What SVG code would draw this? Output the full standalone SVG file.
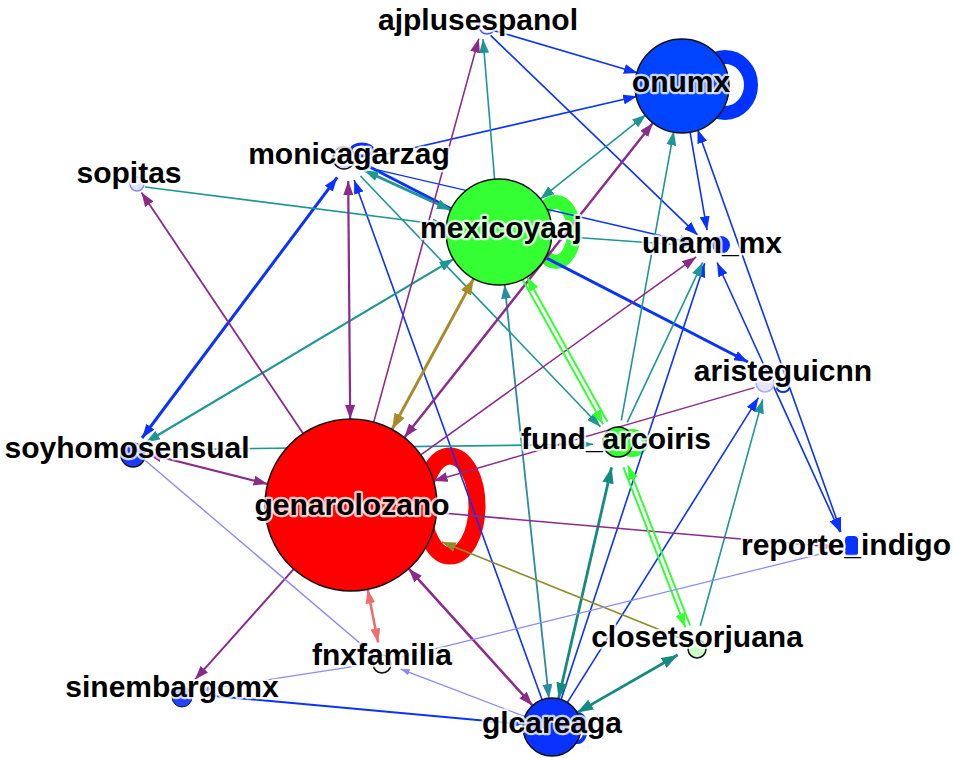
<svg xmlns="http://www.w3.org/2000/svg" width="954" height="758" viewBox="0 0 954 758">
<style>
.e{fill:none;stroke-linecap:butt}
.b{stroke:#0a32ff}.t{stroke:#1e9696}.p{stroke:#8c2a8c}.o{stroke:#a88a28}.g{stroke:#33ff33}.s{stroke:#ec7070}.lb{stroke:#8888ff}
.lbl{font-family:"Liberation Sans",Arial,Helvetica,sans-serif;font-weight:bold;font-size:30px;fill:#000;text-anchor:middle;stroke:#fff;stroke-width:4.5;stroke-opacity:0.8;stroke-linejoin:round;paint-order:stroke}
</style>
<defs>
<marker id="aB" viewBox="0 0 14 10" refX="14" refY="5" markerWidth="14" markerHeight="10" markerUnits="userSpaceOnUse" orient="auto-start-reverse"><path d="M0,0L14,5L0,10z" fill="#0a32ff"/></marker>
<marker id="aT" viewBox="0 0 14 10" refX="14" refY="5" markerWidth="14" markerHeight="10" markerUnits="userSpaceOnUse" orient="auto-start-reverse"><path d="M0,0L14,5L0,10z" fill="#1e9696"/></marker>
<marker id="aT2" viewBox="0 0 14 10" refX="14" refY="5" markerWidth="14" markerHeight="10" markerUnits="userSpaceOnUse" orient="auto-start-reverse"><path d="M0,0L14,5L0,10z" fill="#2a8ca0"/></marker>
<marker id="aT3" viewBox="0 0 14 10" refX="14" refY="5" markerWidth="16" markerHeight="12" markerUnits="userSpaceOnUse" orient="auto-start-reverse"><path d="M0,0L14,5L0,10z" fill="#148a80"/></marker>
<marker id="aP" viewBox="0 0 14 10" refX="14" refY="5" markerWidth="14" markerHeight="10" markerUnits="userSpaceOnUse" orient="auto-start-reverse"><path d="M0,0L14,5L0,10z" fill="#8c2a8c"/></marker>
<marker id="aO" viewBox="0 0 14 10" refX="14" refY="5" markerWidth="16" markerHeight="12" markerUnits="userSpaceOnUse" orient="auto-start-reverse"><path d="M0,0L14,5L0,10z" fill="#a88a28"/></marker>
<marker id="aO2" viewBox="0 0 14 10" refX="14" refY="5" markerWidth="14" markerHeight="10" markerUnits="userSpaceOnUse" orient="auto-start-reverse"><path d="M0,0L14,5L0,10z" fill="#8f8a2a"/></marker>
<marker id="aG" viewBox="0 0 14 10" refX="14" refY="5" markerWidth="14" markerHeight="10" markerUnits="userSpaceOnUse" orient="auto-start-reverse"><path d="M0,0L14,5L0,10z" fill="#33ff33"/></marker>
<marker id="aS" viewBox="0 0 14 10" refX="14" refY="5" markerWidth="14" markerHeight="10" markerUnits="userSpaceOnUse" orient="auto-start-reverse"><path d="M0,0L14,5L0,10z" fill="#ec7070"/></marker>
<marker id="aL" viewBox="0 0 14 10" refX="14" refY="5" markerWidth="9" markerHeight="7" markerUnits="userSpaceOnUse" orient="auto-start-reverse"><path d="M0,0L14,5L0,10z" fill="#8888ff"/></marker>
</defs>
<rect width="954" height="758" fill="#fff"/>
<g id="loops" fill="none">
<ellipse cx="725" cy="85" rx="26" ry="28" stroke="#0033ff" stroke-width="14"/>
<ellipse cx="556" cy="232" rx="18" ry="30" stroke="#33ff33" stroke-width="14"/>
<ellipse cx="450" cy="506" rx="27" ry="50" stroke="#ff0000" stroke-width="17"/>
<ellipse cx="578" cy="728" rx="8" ry="14" stroke="#0a32ff" stroke-width="4"/>
<ellipse cx="632" cy="443" rx="13" ry="11" stroke="#33ff33" stroke-width="6"/>
<ellipse cx="362" cy="150" rx="11" ry="6" stroke="#0a32ff" stroke-width="3"/>
<ellipse cx="783" cy="388" rx="6" ry="4" stroke="#0a32ff" stroke-width="2"/>
</g>
<g id="edges" class="e">
<line class="e b" stroke-width="1.6" x1="493.5" y1="30.4" x2="637.9" y2="73" marker-end="url(#aB)"/>
<line class="e b" stroke-width="1.6" x1="490.6" y1="35.3" x2="697.8" y2="235.2" marker-end="url(#aB)"/>
<line class="e b" stroke-width="1.6" x1="365.5" y1="159" x2="637.2" y2="96.3" marker-end="url(#aB)"/>
<line class="e b" stroke-width="1.6" x1="689.9" y1="131.3" x2="707.1" y2="230.2" marker-end="url(#aB)"/>
<line class="e b" stroke-width="1.6" x1="697.5" y1="129.3" x2="841" y2="531.7" marker-start="url(#aB)" marker-end="url(#aB)"/>
<line class="e b" stroke-width="1.6" x1="717.1" y1="262.5" x2="840" y2="532.1" marker-start="url(#aB)" marker-end="url(#aB)"/>
<line class="e b" stroke-width="3" x1="142" y1="438" x2="337.2" y2="177.4" marker-start="url(#aB)" marker-end="url(#aB)"/>
<line class="e b" stroke-width="1.6" x1="542.1" y1="699.7" x2="354.1" y2="179.9" marker-end="url(#aB)"/>
<line class="e b" stroke-width="3" x1="366" y1="165" x2="748" y2="362" marker-end="url(#aB)"/>
<line class="e b" stroke-width="1.4" x1="365.5" y1="167.1" x2="693.4" y2="243.2" marker-end="url(#aB)"/>
<line class="e b" stroke-width="2" x1="200.9" y1="694.7" x2="523.1" y2="724.3" marker-end="url(#aB)"/>
<line class="e b" stroke-width="1.6" x1="561.1" y1="699.4" x2="704.7" y2="263.2" marker-end="url(#aB)"/>
<line class="e b" stroke-width="1.6" x1="567.4" y1="702.4" x2="758.5" y2="397.6" marker-end="url(#aB)"/>
<line class="e t" stroke-width="1.6" x1="494.6" y1="179.2" x2="483" y2="39" marker-end="url(#aT)"/>
<line class="e t" stroke-width="1.6" x1="540.4" y1="198.9" x2="646" y2="114.7" marker-start="url(#aT)" marker-end="url(#aT)"/>
<line class="e t" stroke-width="1.6" x1="621.3" y1="420.4" x2="673.8" y2="131.3" marker-end="url(#aT)"/>
<line class="e t" stroke-width="3" x1="364.4" y1="170.5" x2="450.8" y2="210" marker-start="url(#aT)" marker-end="url(#aT)"/>
<line class="e t" stroke-width="1.6" x1="145" y1="187" x2="446.4" y2="225.3" marker-end="url(#aT)"/>
<line class="e t" stroke-width="1.6" x1="551.9" y1="235.8" x2="693" y2="245.8" marker-end="url(#aT)"/>
<line class="e t" stroke-width="1.6" x1="360.4" y1="176" x2="600.4" y2="426.7" marker-end="url(#aT)"/>
<line class="e t" stroke-width="2.2" x1="145.9" y1="442.3" x2="453.5" y2="259.1" marker-start="url(#aT)" marker-end="url(#aT)"/>
<line class="e" stroke="#2a8ca0" stroke-width="1.8" x1="504.6" y1="284.7" x2="548.9" y2="698.2" marker-start="url(#aT2)" marker-end="url(#aT2)"/>
<line class="e t" stroke-width="1.6" x1="148" y1="449.8" x2="593" y2="444.3" marker-end="url(#aT)"/>
<line class="e" stroke="#148a80" stroke-width="2.8" x1="577.2" y1="712.6" x2="677.6" y2="655" marker-start="url(#aT3)" marker-end="url(#aT3)"/>
<line class="e" stroke="#148a80" stroke-width="2.8" x1="611.6" y1="467.4" x2="558.5" y2="698.7" marker-start="url(#aT3)" marker-end="url(#aT3)"/>
<line class="e t" stroke-width="1.6" x1="700.3" y1="625.7" x2="762.7" y2="399.4" marker-end="url(#aT)"/>
<line class="e t" stroke-width="1.6" x1="627.2" y1="422.3" x2="702.7" y2="262.4" marker-end="url(#aT)"/>
<line class="e p" stroke-width="1.6" x1="373.7" y1="422.1" x2="478.8" y2="38.6" marker-end="url(#aP)"/>
<line class="e p" stroke-width="2.4" x1="404.3" y1="437.5" x2="652.9" y2="122.9" marker-start="url(#aP)" marker-end="url(#aP)"/>
<line class="e p" stroke-width="2.2" x1="350.2" y1="419" x2="348.2" y2="181" marker-start="url(#aP)" marker-end="url(#aP)"/>
<line class="e p" stroke-width="1.8" x1="303.1" y1="433.6" x2="141.5" y2="192.6" marker-end="url(#aP)"/>
<line class="e p" stroke-width="2.2" x1="147.5" y1="453.7" x2="267.6" y2="484" marker-start="url(#aP)" marker-end="url(#aP)"/>
<line class="e p" stroke-width="1.6" x1="420.8" y1="454.8" x2="696.2" y2="256.9" marker-end="url(#aP)"/>
<line class="e p" stroke-width="1.4" x1="754.5" y1="387.6" x2="433.6" y2="481" marker-end="url(#aP)"/>
<line class="e p" stroke-width="1.6" x1="436.7" y1="512.5" x2="833" y2="547" marker-end="url(#aP)"/>
<line class="e p" stroke-width="2" x1="293.7" y1="569.1" x2="195" y2="679.6" marker-end="url(#aP)"/>
<line class="e p" stroke-width="2.6" x1="408.7" y1="568.7" x2="532.5" y2="705.5" marker-start="url(#aP)" marker-end="url(#aP)"/>
<line class="e o" stroke-width="3" x1="392" y1="429.4" x2="473.7" y2="278.6" marker-start="url(#aO)" marker-end="url(#aO)"/>
<line class="e" stroke="#8f8a2a" stroke-width="1.6" x1="680" y1="638" x2="442" y2="542" marker-end="url(#aO2)"/>
<line class="e g" stroke-width="2" x1="522.6" y1="279.5" x2="603.1" y2="424.2" marker-end="url(#aG)"/>
<line class="e g" stroke-width="2" x1="607.5" y1="421.8" x2="527" y2="277.1" marker-end="url(#aG)"/>
<line class="e g" stroke-width="2" x1="623.4" y1="467.3" x2="685.4" y2="627.3" marker-end="url(#aG)"/>
<line class="e g" stroke-width="2" x1="690.1" y1="625.5" x2="628" y2="465.5" marker-end="url(#aG)"/>
<line class="e s" stroke-width="2.6" x1="367.7" y1="589.4" x2="378.1" y2="642.4" marker-start="url(#aS)" marker-end="url(#aS)"/>
<line class="e lb" stroke-width="1.4" x1="144.4" y1="459.7" x2="366.8" y2="649" marker-end="url(#aL)"/>
<line class="e lb" stroke-width="1.2" x1="362.2" y1="665.1" x2="200.8" y2="690.2" marker-end="url(#aL)"/>
<line class="e lb" stroke-width="1.2" x1="401.4" y1="657.2" x2="833.3" y2="550.9" marker-end="url(#aL)"/>
<line class="e lb" stroke-width="1.2" x1="524.9" y1="716.6" x2="400.7" y2="669.1" marker-end="url(#aL)"/>
</g>
<g id="nodes" stroke="#111" stroke-width="1.5">
<g id="n-onumx"><circle cx="682" cy="86" r="47" fill="#0044ff"/></g>
<g id="n-mexicoyaaj"><circle cx="499" cy="232" r="53" fill="#33ff33"/></g>
<g id="n-genarolozano"><circle cx="351" cy="505" r="86" fill="#ff0000"/></g>
<g id="n-glcareaga"><circle cx="552" cy="727" r="29" fill="#0a32ff"/></g>
<g id="n-ajplusespanol"><circle cx="487" cy="26" r="8" fill="#e8e8ff" stroke="#4a5aff"/></g>
<g id="n-monicagarzag"><circle cx="344" cy="158" r="11" fill="#d8d8ff"/></g>
<g id="n-sopitas"><circle cx="137" cy="184" r="7" fill="#e0e0ff" stroke="#8888ff"/></g>
<g id="n-unam_mx"><circle cx="721" cy="245" r="9" fill="#0a32ff" stroke="none"/></g>
<g id="n-aristeguicnn"><circle cx="765" cy="383" r="9" fill="#e6e6ff" stroke="#aaaaff"/></g>
<g id="n-fund_arcoiris"><circle cx="618" cy="442" r="15" fill="#33ff33"/></g>
<g id="n-soyhomosensual"><circle cx="133" cy="455" r="12" fill="#1a3cff"/></g>
<g id="n-reporte_indigo"><rect x="845" y="536" width="13" height="20" rx="4" fill="#0a32ff" stroke="none"/></g>
<g id="n-closetsorjuana"><circle cx="697" cy="649" r="9" fill="#ccffcc"/></g>
<g id="n-fnxfamilia"><circle cx="382" cy="664" r="9" fill="#f4f4f4"/></g>
<g id="n-sinembargomx"><circle cx="182" cy="697" r="10" fill="#2244ff" stroke-width="1"/></g>
</g>
<g id="labels">
<text class="lbl" x="478" y="30">ajplusespanol</text>
<text class="lbl" x="681" y="92">onumx</text>
<text class="lbl" x="349" y="164">monicagarzag</text>
<text class="lbl" x="129" y="183">sopitas</text>
<text class="lbl" x="501" y="238">mexicoyaaj</text>
<text class="lbl" x="712" y="253">unam_mx</text>
<text class="lbl" x="783" y="381">aristeguicnn</text>
<text class="lbl" x="616" y="449">fund_arcoiris</text>
<text class="lbl" x="127" y="458">soyhomosensual</text>
<text class="lbl" x="352" y="515">genarolozano</text>
<text class="lbl" x="846" y="555">reporte_indigo</text>
<text class="lbl" x="697" y="647">closetsorjuana</text>
<text class="lbl" x="382" y="665">fnxfamilia</text>
<text class="lbl" x="172" y="697">sinembargomx</text>
<text class="lbl" x="552" y="733">glcareaga</text>
</g>
</svg>
